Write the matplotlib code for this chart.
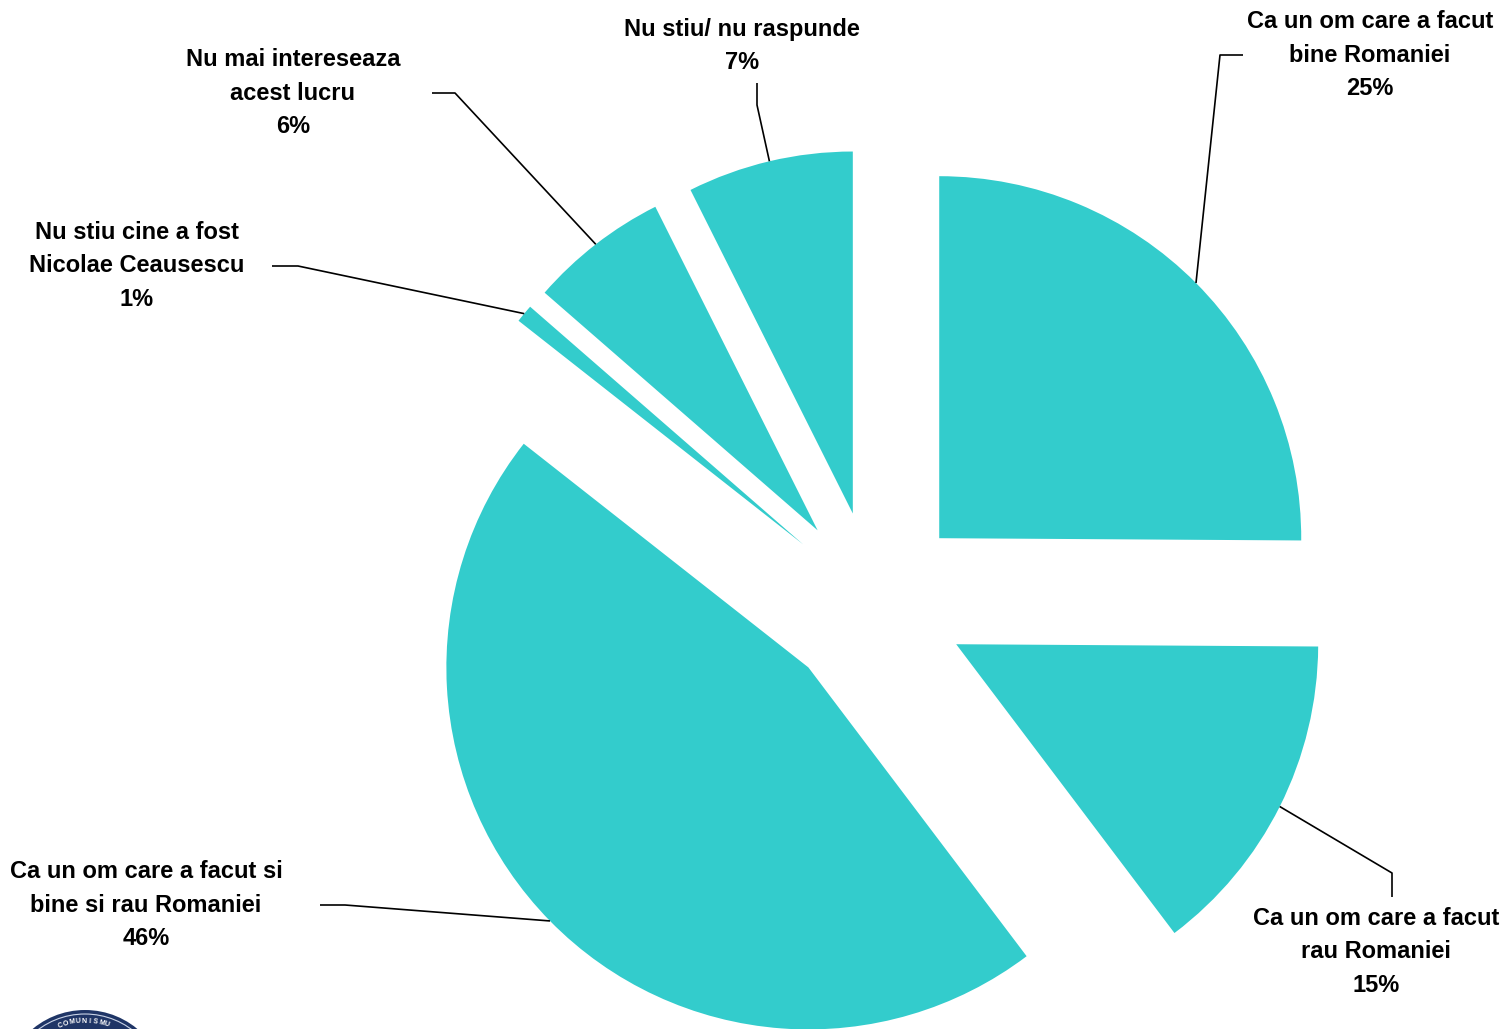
import numpy as np
import matplotlib
matplotlib.use("Agg")
import matplotlib.pyplot as plt
from matplotlib.patches import Circle

# --- Données -------------------------------------------------------------
labels = [
    "Ca un om care a facut\nbine Romaniei",
    "Ca un om care a facut\nrau Romaniei",
    "Ca un om care a facut si\nbine si rau Romaniei",
    "Nu stiu cine a fost\nNicolae Ceausescu",
    "Nu mai intereseaza\nacest lucru",
    "Nu stiu/ nu raspunde",
]
values = [25.1, 14.6, 45.9, 0.8, 6.2, 7.4]

# --- Mise en page (pixels image, origine en haut à gauche) ---------------
W, H = 1507, 1029
CX, CY, R = 874, 603, 362          # centre et rayon du camembert
EXPLODE = 0.254                    # fraction du rayon
TEAL = "#33CCCC"

# coude du trait de rappel, extrémité, position du texte (centre)
elbows = [(1220, 55), (1392, 873), (345, 905), (298, 266), (455, 93), (757, 105)]
ends = [(1243, 55), (1392, 897), (320, 905), (272, 266), (432, 93), (757, 83)]
text_pos = [(1370, 55), (1376, 952), (146, 905), (137, 266), (293, 93), (742, 46)]


def px(x, y):
    """pixels image -> coordonnées données (1 unité = rayon)."""
    return (x - CX) / R, (CY - y) / R


fig = plt.figure(figsize=(W / 100, H / 100), dpi=100)
fig.patch.set_facecolor("white")
ax = fig.add_axes([0, 0, 1, 1])

wedges, _ = ax.pie(values, startangle=90, counterclock=False,
                   colors=[TEAL] * len(values), explode=[EXPLODE] * len(values),
                   radius=1.0, wedgeprops=dict(linewidth=0))

ax.set_xlim(-CX / R, (W - CX) / R)
ax.set_ylim((CY - H) / R, CY / R)
ax.set_aspect("auto")
ax.axis("off")

fonts = ["Liberation Sans", "Arial", "DejaVu Sans"]
for w, lab, v, elb, end, tp in zip(wedges, labels, values, elbows, ends, text_pos):
    mid = np.deg2rad(0.5 * (w.theta1 + w.theta2))
    cx, cy = w.center
    start = (cx + w.r * np.cos(mid), cy + w.r * np.sin(mid))
    ex, ey = px(*elb)
    fx, fy = px(*end)
    ax.plot([start[0], ex, fx], [start[1], ey, fy], color="black", lw=1.2,
            solid_capstyle="butt", clip_on=False)
    tx, ty = px(*tp)
    ax.text(tx, ty, f"{lab}\n{v:.0f}%", ha="center", va="center",
            fontsize=17, fontweight="bold", family=fonts, linespacing=1.565)

# logo (coin inférieur gauche, partiellement visible)
lx, ly = px(85, 1092)
ax.add_patch(Circle((lx, ly), 82 / R, facecolor="#1F3566", edgecolor="none",
                    clip_on=False))
ax.add_patch(Circle((lx, ly), 78 / R, facecolor="none", edgecolor="#C9D3E6",
                    linewidth=0.8, clip_on=False))
logo_txt = "COMUNISMU"
angles = np.linspace(110, 72, len(logo_txt))
for ch, a in zip(logo_txt, angles):
    ar = np.deg2rad(a)
    ax.text(lx + 71 / R * np.cos(ar), ly + 71 / R * np.sin(ar), ch,
            rotation=a - 90, ha="center", va="center", fontsize=5,
            fontweight="bold", color="white", family=fonts)

fig.savefig("out.png", dpi=100)
